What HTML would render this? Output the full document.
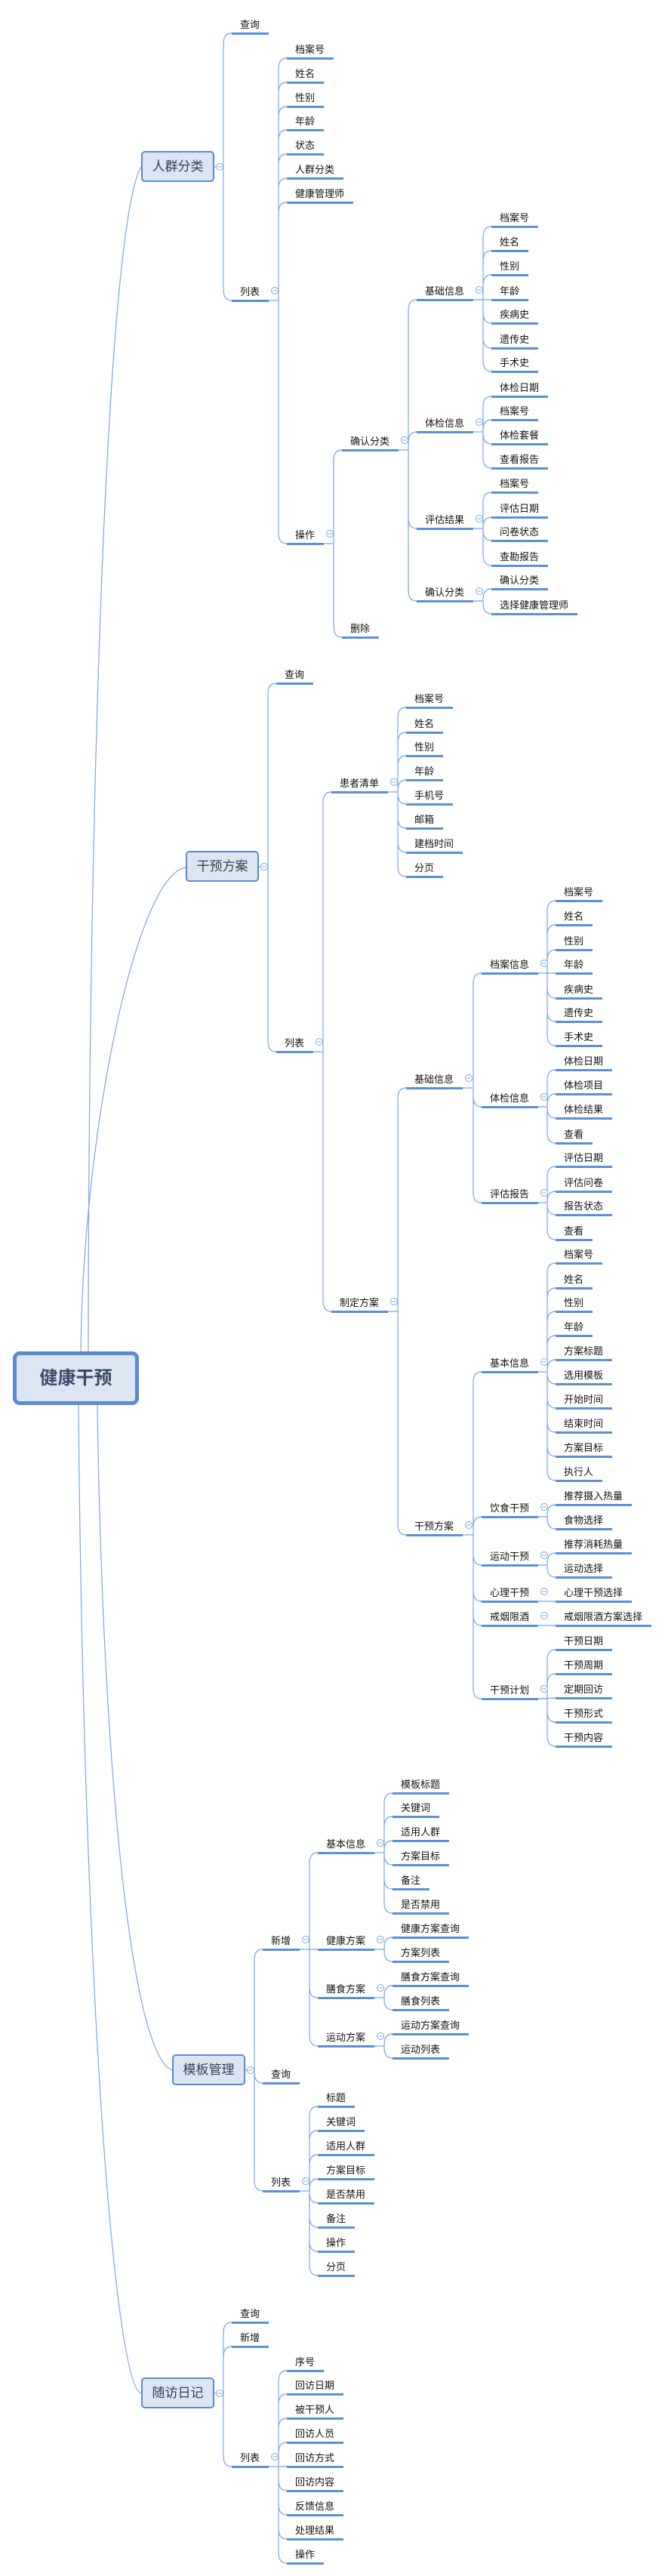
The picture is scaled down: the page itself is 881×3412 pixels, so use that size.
<!DOCTYPE html>
<html><head><meta charset="utf-8"><style>
body{margin:0;background:#fff;}
#c{position:relative;width:881px;height:3412px;overflow:hidden;font-family:"Liberation Sans","Noto Sans CJK SC",sans-serif;}
.n{position:absolute;box-sizing:border-box;height:22px;padding-left:11px;font-size:13px;line-height:18px;color:#111;border-bottom:3px solid #5b8fd6;white-space:nowrap;}
.b{position:absolute;box-sizing:border-box;width:97px;height:41px;background:#dce6f2;border:2px solid #5a8ad0;border-radius:5px;font-size:17px;line-height:37px;text-align:center;color:#333f55;}
#root{position:absolute;left:17px;top:1790px;width:167px;height:71px;box-sizing:border-box;background:#dce6f2;border:5px solid #5a8ad0;border-radius:9px;font-size:24px;font-weight:bold;line-height:61px;text-align:center;color:#3a4a66;}
svg{position:absolute;left:0;top:0;}
</style></head><body><div id="c">
<svg id="s" width="881" height="3412"></svg>
<div id="root">健康干预</div>
<div class="b" style="left:187px;top:200px">人群分类</div>
<div class="b" style="left:246px;top:1127px">干预方案</div>
<div class="b" style="left:228px;top:2721px">模板管理</div>
<div class="b" style="left:187px;top:3149px">随访日记</div>

<div class="n" style="left:307px;top:24px;width:49px">查询</div>
<div class="n" style="left:307px;top:378px;width:49px">列表</div>
<div class="n" style="left:380px;top:57px;width:62px">档案号</div>
<div class="n" style="left:380px;top:89px;width:49px">姓名</div>
<div class="n" style="left:380px;top:121px;width:49px">性别</div>
<div class="n" style="left:380px;top:152px;width:49px">年龄</div>
<div class="n" style="left:380px;top:184px;width:49px">状态</div>
<div class="n" style="left:380px;top:216px;width:75px">人群分类</div>
<div class="n" style="left:380px;top:248px;width:88px">健康管理师</div>
<div class="n" style="left:380px;top:700px;width:49px">操作</div>
<div class="n" style="left:453px;top:576px;width:75px">确认分类</div>
<div class="n" style="left:453px;top:824px;width:49px">删除</div>
<div class="n" style="left:552px;top:377px;width:75px">基础信息</div>
<div class="n" style="left:552px;top:552px;width:75px">体检信息</div>
<div class="n" style="left:552px;top:680px;width:75px">评估结果</div>
<div class="n" style="left:552px;top:776px;width:75px">确认分类</div>
<div class="n" style="left:651px;top:280px;width:62px">档案号</div>
<div class="n" style="left:651px;top:312px;width:49px">姓名</div>
<div class="n" style="left:651px;top:344px;width:49px">性别</div>
<div class="n" style="left:651px;top:377px;width:49px">年龄</div>
<div class="n" style="left:651px;top:408px;width:62px">疾病史</div>
<div class="n" style="left:651px;top:441px;width:62px">遗传史</div>
<div class="n" style="left:651px;top:472px;width:62px">手术史</div>
<div class="n" style="left:651px;top:505px;width:75px">体检日期</div>
<div class="n" style="left:651px;top:536px;width:62px">档案号</div>
<div class="n" style="left:651px;top:568px;width:75px">体检套餐</div>
<div class="n" style="left:651px;top:600px;width:75px">查看报告</div>
<div class="n" style="left:651px;top:632px;width:62px">档案号</div>
<div class="n" style="left:651px;top:665px;width:75px">评估日期</div>
<div class="n" style="left:651px;top:696px;width:75px">问卷状态</div>
<div class="n" style="left:651px;top:729px;width:75px">查勘报告</div>
<div class="n" style="left:651px;top:760px;width:75px">确认分类</div>
<div class="n" style="left:651px;top:793px;width:114px">选择健康管理师</div>

<div class="n" style="left:366px;top:885px;width:49px">查询</div>
<div class="n" style="left:366px;top:1373px;width:49px">列表</div>
<div class="n" style="left:439px;top:1029px;width:75px">患者清单</div>
<div class="n" style="left:439px;top:1717px;width:75px">制定方案</div>
<div class="n" style="left:538px;top:917px;width:62px">档案号</div>
<div class="n" style="left:538px;top:950px;width:49px">姓名</div>
<div class="n" style="left:538px;top:981px;width:49px">性别</div>
<div class="n" style="left:538px;top:1013px;width:49px">年龄</div>
<div class="n" style="left:538px;top:1045px;width:62px">手机号</div>
<div class="n" style="left:538px;top:1077px;width:49px">邮箱</div>
<div class="n" style="left:538px;top:1109px;width:75px">建档时间</div>
<div class="n" style="left:538px;top:1141px;width:49px">分页</div>
<div class="n" style="left:538px;top:1421px;width:75px">基础信息</div>
<div class="n" style="left:538px;top:2013px;width:75px">干预方案</div>
<div class="n" style="left:638px;top:1269px;width:75px">档案信息</div>
<div class="n" style="left:638px;top:1446px;width:75px">体检信息</div>
<div class="n" style="left:638px;top:1573px;width:75px">评估报告</div>
<div class="n" style="left:638px;top:1797px;width:75px">基本信息</div>
<div class="n" style="left:638px;top:1989px;width:75px">饮食干预</div>
<div class="n" style="left:638px;top:2053px;width:75px">运动干预</div>
<div class="n" style="left:638px;top:2101px;width:75px">心理干预</div>
<div class="n" style="left:638px;top:2133px;width:75px">戒烟限酒</div>
<div class="n" style="left:638px;top:2230px;width:75px">干预计划</div>
<div class="n" style="left:736px;top:1173px;width:62px">档案号</div>
<div class="n" style="left:736px;top:1205px;width:49px">姓名</div>
<div class="n" style="left:736px;top:1238px;width:49px">性别</div>
<div class="n" style="left:736px;top:1269px;width:49px">年龄</div>
<div class="n" style="left:736px;top:1302px;width:62px">疾病史</div>
<div class="n" style="left:736px;top:1333px;width:62px">遗传史</div>
<div class="n" style="left:736px;top:1365px;width:62px">手术史</div>
<div class="n" style="left:736px;top:1397px;width:75px">体检日期</div>
<div class="n" style="left:736px;top:1429px;width:75px">体检项目</div>
<div class="n" style="left:736px;top:1461px;width:75px">体检结果</div>
<div class="n" style="left:736px;top:1494px;width:49px">查看</div>
<div class="n" style="left:736px;top:1525px;width:75px">评估日期</div>
<div class="n" style="left:736px;top:1558px;width:75px">评估问卷</div>
<div class="n" style="left:736px;top:1589px;width:75px">报告状态</div>
<div class="n" style="left:736px;top:1622px;width:49px">查看</div>
<div class="n" style="left:736px;top:1653px;width:62px">档案号</div>
<div class="n" style="left:736px;top:1686px;width:49px">姓名</div>
<div class="n" style="left:736px;top:1717px;width:49px">性别</div>
<div class="n" style="left:736px;top:1749px;width:49px">年龄</div>
<div class="n" style="left:736px;top:1781px;width:75px">方案标题</div>
<div class="n" style="left:736px;top:1813px;width:75px">选用模板</div>
<div class="n" style="left:736px;top:1845px;width:75px">开始时间</div>
<div class="n" style="left:736px;top:1877px;width:75px">结束时间</div>
<div class="n" style="left:736px;top:1909px;width:75px">方案目标</div>
<div class="n" style="left:736px;top:1941px;width:62px">执行人</div>
<div class="n" style="left:736px;top:1973px;width:101px">推荐摄入热量</div>
<div class="n" style="left:736px;top:2005px;width:75px">食物选择</div>
<div class="n" style="left:736px;top:2037px;width:101px">推荐消耗热量</div>
<div class="n" style="left:736px;top:2069px;width:75px">运动选择</div>
<div class="n" style="left:736px;top:2101px;width:101px">心理干预选择</div>
<div class="n" style="left:736px;top:2133px;width:127px">戒烟限酒方案选择</div>
<div class="n" style="left:736px;top:2165px;width:75px">干预日期</div>
<div class="n" style="left:736px;top:2197px;width:75px">干预周期</div>
<div class="n" style="left:736px;top:2229px;width:75px">定期回访</div>
<div class="n" style="left:736px;top:2261px;width:75px">干预形式</div>
<div class="n" style="left:736px;top:2293px;width:75px">干预内容</div>

<div class="n" style="left:348px;top:2562px;width:49px">新增</div>
<div class="n" style="left:348px;top:2739px;width:49px">查询</div>
<div class="n" style="left:348px;top:2882px;width:49px">列表</div>
<div class="n" style="left:421px;top:2434px;width:75px">基本信息</div>
<div class="n" style="left:421px;top:2562px;width:75px">健康方案</div>
<div class="n" style="left:421px;top:2626px;width:75px">膳食方案</div>
<div class="n" style="left:421px;top:2690px;width:75px">运动方案</div>
<div class="n" style="left:520px;top:2355px;width:75px">模板标题</div>
<div class="n" style="left:520px;top:2386px;width:62px">关键词</div>
<div class="n" style="left:520px;top:2418px;width:75px">适用人群</div>
<div class="n" style="left:520px;top:2450px;width:75px">方案目标</div>
<div class="n" style="left:520px;top:2482px;width:49px">备注</div>
<div class="n" style="left:520px;top:2514px;width:75px">是否禁用</div>
<div class="n" style="left:520px;top:2546px;width:101px">健康方案查询</div>
<div class="n" style="left:520px;top:2578px;width:75px">方案列表</div>
<div class="n" style="left:520px;top:2610px;width:101px">膳食方案查询</div>
<div class="n" style="left:520px;top:2642px;width:75px">膳食列表</div>
<div class="n" style="left:520px;top:2674px;width:101px">运动方案查询</div>
<div class="n" style="left:520px;top:2706px;width:75px">运动列表</div>
<div class="n" style="left:421px;top:2770px;width:49px">标题</div>
<div class="n" style="left:421px;top:2802px;width:62px">关键词</div>
<div class="n" style="left:421px;top:2834px;width:75px">适用人群</div>
<div class="n" style="left:421px;top:2866px;width:75px">方案目标</div>
<div class="n" style="left:421px;top:2898px;width:75px">是否禁用</div>
<div class="n" style="left:421px;top:2930px;width:49px">备注</div>
<div class="n" style="left:421px;top:2962px;width:49px">操作</div>
<div class="n" style="left:421px;top:2994px;width:49px">分页</div>

<div class="n" style="left:307px;top:3056px;width:49px">查询</div>
<div class="n" style="left:307px;top:3088px;width:49px">新增</div>
<div class="n" style="left:307px;top:3247px;width:49px">列表</div>
<div class="n" style="left:380px;top:3120px;width:49px">序号</div>
<div class="n" style="left:380px;top:3151px;width:75px">回访日期</div>
<div class="n" style="left:380px;top:3183px;width:75px">被干预人</div>
<div class="n" style="left:380px;top:3215px;width:75px">回访人员</div>
<div class="n" style="left:380px;top:3247px;width:75px">回访方式</div>
<div class="n" style="left:380px;top:3279px;width:75px">回访内容</div>
<div class="n" style="left:380px;top:3311px;width:75px">反馈信息</div>
<div class="n" style="left:380px;top:3343px;width:75px">处理结果</div>
<div class="n" style="left:380px;top:3375px;width:49px">操作</div>
</div>
<script>
var G=[
['b',284,221,307,[44,398]],
['u',356,398,380,[77,109,141,172,204,236,268,720]],
['u',429,720,453,[596,844]],
['u',528,596,552,[397,572,700,796]],
['u',627,397,651,[300,332,364,397,428,461,492]],
['u',627,572,651,[525,556,588,620]],
['u',627,700,651,[652,685,716,749]],
['u',627,796,651,[780,813]],
['b',343,1148,366,[905,1393]],
['u',415,1393,439,[1049,1737]],
['u',514,1049,538,[937,970,1001,1033,1065,1097,1129,1161]],
['u',514,1737,538,[1441,2033]],
['u',613,1441,638,[1289,1466,1593]],
['u',613,2033,638,[1817,2009,2073,2121,2153,2250]],
['u',713,1289,736,[1193,1225,1258,1289,1322,1353,1385]],
['u',713,1466,736,[1417,1449,1481,1514]],
['u',713,1593,736,[1545,1578,1609,1642]],
['u',713,1817,736,[1673,1706,1737,1769,1801,1833,1865,1897,1929,1961]],
['u',713,2009,736,[1993,2025]],
['u',713,2073,736,[2057,2089]],
['u',713,2121,736,[2121]],
['u',713,2153,736,[2153]],
['u',713,2250,736,[2185,2217,2249,2281,2313]],
['b',325,2742,348,[2582,2759,2902]],
['u',397,2582,421,[2454,2582,2646,2710]],
['u',496,2454,520,[2375,2406,2438,2470,2502,2534]],
['u',496,2582,520,[2566,2598]],
['u',496,2646,520,[2630,2662]],
['u',496,2710,520,[2694,2726]],
['u',397,2902,421,[2790,2822,2854,2886,2918,2950,2982,3014]],
['b',284,3170,307,[3076,3108,3267]],
['u',356,3267,380,[3140,3171,3203,3235,3267,3299,3331,3363,3395]]
];
var d='',ci='';
G.forEach(function(g){
 var t=g[0],px=g[1],py=g[2],cx=g[3],ys=g[4],bx=cx-11,sx,cxc,cyc;
 if(t=='b'){cxc=px+7;cyc=py;sx=px+11.5;d+='M'+px+' '+py+'L'+(px+2.5)+' '+py;}
 else{cxc=px+8;cyc=py-13;sx=px;}
 ci+='<circle cx="'+cxc+'" cy="'+cyc+'" r="4.5" fill="#fff" stroke="#7aa6e3" stroke-width="1"/><line x1="'+(cxc-2.5)+'" y1="'+cyc+'" x2="'+(cxc+2.5)+'" y2="'+cyc+'" stroke="#7aa6e3" stroke-width="1"/>';
 ys.forEach(function(cy){
  var dy=cy-py;
  if(Math.abs(dy)<3){d+='M'+sx+' '+py+'L'+cx+' '+cy;return;}
  var s=dy>0?1:-1,r=Math.min(14,Math.abs(dy));
  d+='M'+sx+' '+py+'L'+bx+' '+py+'L'+bx+' '+(cy-s*r)+'Q'+bx+' '+cy+' '+cx+' '+cy;
 });
});
d+='M117 1790C117 1100 140 300 187 221';
d+='M107 1790C110 1500 180 1160 246 1149';
d+='M129 1861C135 2300 170 2720 228 2742';
d+='M104 1861C110 2600 150 3160 187 3170';
document.getElementById('s').innerHTML='<path d="'+d+'" fill="none" stroke="#7aa6e3" stroke-width="1.2"/>'+ci;
</script>
</body></html>
